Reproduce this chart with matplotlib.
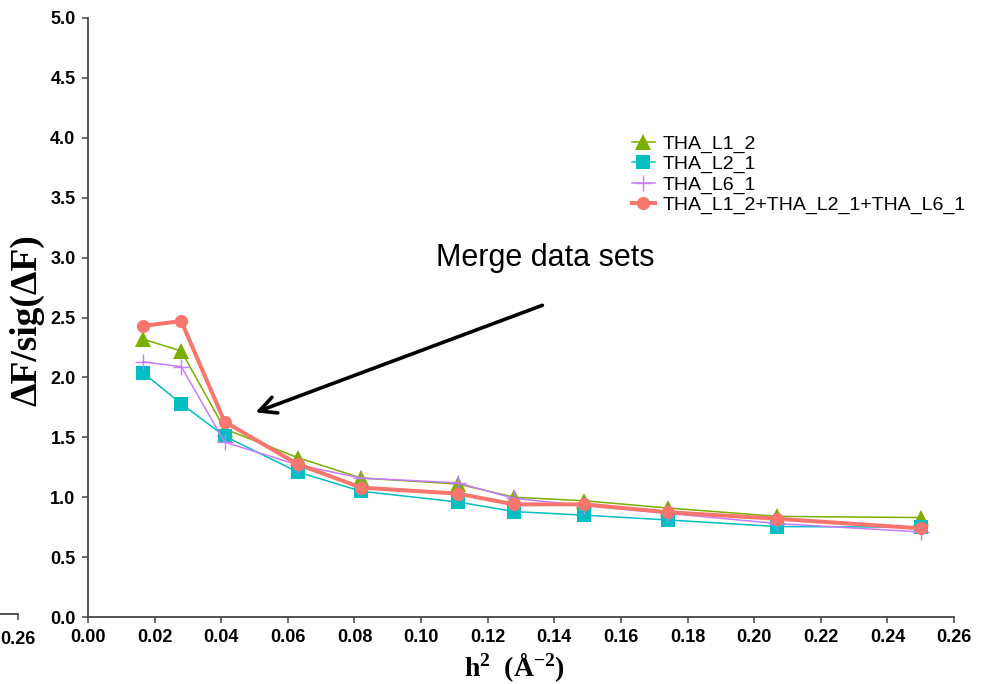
import matplotlib
matplotlib.use('Agg')
import matplotlib.pyplot as plt

# resolution shells (h^2, 1/A^2) and mean dF/sig(dF) per data set
h2 = [0.0165, 0.028, 0.041, 0.063, 0.082, 0.111, 0.128, 0.149, 0.174, 0.207, 0.250]
tha_l1_2 = [2.32, 2.22, 1.57, 1.33, 1.16, 1.11, 1.00, 0.97, 0.91, 0.84, 0.83]
tha_l2_1 = [2.04, 1.78, 1.51, 1.21, 1.05, 0.96, 0.88, 0.85, 0.81, 0.755, 0.75]
tha_l6_1 = [2.13, 2.09, 1.46, 1.27, 1.16, 1.12, 0.99, 0.93, 0.865, 0.78, 0.71]
merged = [2.43, 2.47, 1.63, 1.275, 1.08, 1.03, 0.94, 0.94, 0.875, 0.82, 0.74]

names = ['THA_L1_2', 'THA_L2_1', 'THA_L6_1', 'THA_L1_2+THA_L2_1+THA_L6_1']
xticks = [0.00, 0.02, 0.04, 0.06, 0.08, 0.10, 0.12, 0.14, 0.16, 0.18, 0.20, 0.22, 0.24, 0.26]
yticks = [0.0, 0.5, 1.0, 1.5, 2.0, 2.5, 3.0, 3.5, 4.0, 4.5, 5.0]

tick_font = dict(family='Liberation Sans', weight='bold', size=13)

plt.rcParams['mathtext.fontset'] = 'custom'
plt.rcParams['mathtext.rm'] = 'Liberation Serif:bold'
plt.rcParams['mathtext.it'] = 'Liberation Serif:bold'
plt.rcParams['mathtext.bf'] = 'Liberation Serif:bold'

fig = plt.figure(figsize=(9.81, 6.84), dpi=100)
ax = fig.add_axes([88/981, 67/684, 866/981, 599/684])

ax.plot(h2, tha_l1_2, color='#7CAE00', lw=1.1, marker='^', ms=11.5, mew=0, label=names[0])
ax.plot(h2, tha_l2_1, color='#00BFC4', lw=1.1, marker='s', ms=10, mew=0, label=names[1])
ax.plot(h2, tha_l6_1, color='#C77CFF', lw=1.1, marker='+', ms=11.5, mew=1.0, label=names[2])
ax.plot(h2, merged, color='#F8766D', lw=2.9, marker='o', ms=9.5, mew=0, label=names[3])

ax.set_xlim(0, 0.26)
ax.set_ylim(0, 5.0)
ax.set_xticks(xticks)
ax.set_xticklabels(['%.2f' % v for v in xticks], fontdict=tick_font)
ax.set_yticks(yticks)
ax.set_yticklabels(['%.1f' % v for v in yticks], fontdict=tick_font)
ax.tick_params(direction='out', length=4, width=1.1, color='#444444', pad=5)
for s in ['top', 'right']:
    ax.spines[s].set_visible(False)
for s in ['left', 'bottom']:
    ax.spines[s].set_color('#444444')
    ax.spines[s].set_linewidth(1.3)

ax.set_ylabel('ΔF/sig(ΔF)', family='Liberation Serif', weight='bold', size=27)
ax.yaxis.set_label_coords(-0.05, 0.496)
ax.set_xlabel('h$^{2}$  (Å$^{-2}$)', family='Liberation Serif', weight='bold', size=20)
ax.xaxis.set_label_coords(0.493, -0.055)

ax.legend(loc='upper left', bbox_to_anchor=(622/981, 1 - 125/684), bbox_transform=fig.transFigure,
          frameon=False, prop=dict(family='Liberation Sans', size=14), handlelength=1.2,
          handletextpad=0.4, labelspacing=0.14, borderpad=0)

ax.annotate('', xy=(0.0495, 1.70), xytext=(0.1372, 2.61),
            arrowprops=dict(arrowstyle='->', lw=2.6, color='black', mutation_scale=30))
ax.text(0.1045, 2.93, 'Merge data sets', fontsize=22, family='Liberation Sans')

# stray axis fragment at the left edge
ax2 = fig.add_axes([0, 70/684, 18/981, 0.0001])
ax2.set_xlim(0.25, 0.26)
ax2.set_ylim(0, 1)
ax2.set_yticks([])
ax2.set_xticks([0.26])
ax2.set_xticklabels(['0.26'], fontdict=tick_font)
ax2.tick_params(direction='out', length=4, width=1.1, color='#444444', pad=8)
for s in ['top', 'right', 'left']:
    ax2.spines[s].set_visible(False)
ax2.spines['bottom'].set_color('#444444')
ax2.spines['bottom'].set_linewidth(1.3)
ax2.patch.set_visible(False)

fig.savefig('out.png', dpi=100)
